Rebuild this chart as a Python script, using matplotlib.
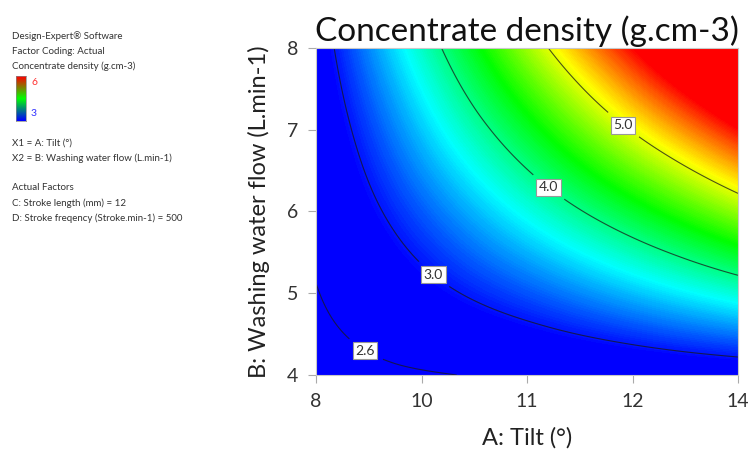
import numpy as np
import matplotlib
matplotlib.use('Agg')
import matplotlib.pyplot as plt
import matplotlib.tri as mtri
from matplotlib.colors import LinearSegmentedColormap

plt.rcParams['font.family'] = ['Lato', 'DejaVu Sans']

# factor levels (A: tilt, B: washing water flow)
tilt = [8, 9, 10, 11, 12, 13, 14]
flow = [4, 5, 6, 7, 8]

# concentrate density, one row per flow level
density = [
    [2.51, 2.56, 2.60, 2.65, 2.69, 2.74, 2.78],
    [2.59, 2.79, 2.99, 3.18, 3.38, 3.58, 3.78],
    [2.67, 3.02, 3.37, 3.72, 4.07, 4.42, 4.78],
    [2.75, 3.25, 3.76, 4.26, 4.77, 5.27, 5.77],
    [2.83, 3.49, 4.14, 4.80, 5.46, 6.11, 6.77],
]

contour_levels = [2.6, 3.0, 4.0, 5.0]
label_spots = [(8.73, 4.34), (9.72, 5.28), (11.31, 6.30), (12.38, 7.07)]

xtick_pos = [8, 9.5, 11, 12.5, 14]
xtick_labels = ['8', '10', '11', '12', '14']
ytick_pos = [4, 5, 6, 7, 8]

legend_lines_top = ['Design-Expert\u00ae Software', 'Factor Coding: Actual',
                    'Concentrate density (g.cm-3)']
legend_lines_bottom = ['X1 = A: Tilt (\u00b0)', 'X2 = B: Washing water flow (L.min-1)', '',
                       'Actual Factors', 'C: Stroke length (mm) = 12',
                       'D: Stroke freqency (Stroke.min-1) = 500']

cmap = LinearSegmentedColormap.from_list(
    'de', ['#0000ff', '#00ffff', '#00ff00', '#ffff00', '#ff0000'])

fig = plt.figure(figsize=(7.51, 4.66), dpi=100)
ax = fig.add_axes([0.4208, 0.1953, 0.5619, 0.7017])

X, Y = np.meshgrid(tilt, flow)
Z = np.array(density)
tri = mtri.Triangulation(X.ravel(), Y.ravel())
refiner = mtri.UniformTriRefiner(tri)
tri_f, z_f = refiner.refine_field(Z.ravel(), subdiv=5)

ax.tricontourf(tri_f, z_f, levels=np.linspace(2.3, 7.0, 240), cmap=cmap,
               vmin=2.95, vmax=5.8, extend='both')
cs = ax.tricontour(tri_f, z_f, levels=contour_levels, colors='#1a1a1a',
                   linewidths=0.8, alpha=0.75)
labels = ax.clabel(cs, fmt={2.6: '2.6', 3.0: '3.0', 4.0: '4.0', 5.0: '5.0'},
                   manual=label_spots, inline=True, inline_spacing=10, fontsize=10)
for t in labels:
    t.set_rotation(0)
    t.set_color('#333333')
    t.set_bbox(dict(facecolor='white', edgecolor='#999999', linewidth=0.8, pad=1.8))

ax.set_xlim(8, 14)
ax.set_ylim(4, 8)
ax.set_xticks(xtick_pos)
ax.set_xticklabels(xtick_labels)
ax.set_yticks(ytick_pos)
ax.tick_params(direction='out', length=6, width=0.8, color='#aaaaaa',
               labelsize=14, labelcolor='#333333', pad=7)
for s in ax.spines.values():
    s.set_color('#c8c8c8')
    s.set_linewidth(0.8)

ax.set_title('Concentrate density (g.cm-3)', fontsize=24, color='#111111', pad=5)
ax.set_xlabel('A: Tilt (\u00b0)', fontsize=17, color='#222222', labelpad=12)
ax.set_ylabel('B: Washing water flow (L.min-1)', fontsize=17, color='#222222', labelpad=12)

# legend text on the left
y0 = 466 - 36
for i, line in enumerate(legend_lines_top):
    fig.text(12 / 751, (y0 - i * 15) / 466, line, fontsize=7, color='#333333', va='center')

cax = fig.add_axes([16 / 751, 1 - 121 / 466, 10 / 751, 45 / 466])
cax.imshow(np.linspace(6, 3, 60).reshape(-1, 1), aspect='auto',
           cmap=LinearSegmentedColormap.from_list('leg', ['#0000ff', '#00ff00', '#ff0000']))
cax.set_xticks([])
cax.set_yticks([])
for s in cax.spines.values():
    s.set_color('#888888')
    s.set_linewidth(0.5)
fig.text(31 / 751, 1 - 83 / 466, '6', fontsize=7.5, color='#ff3030', va='center')
fig.text(31 / 751, 1 - 113 / 466, '3', fontsize=7.5, color='#3030ff', va='center')

y1 = 466 - 143
for i, line in enumerate(legend_lines_bottom):
    fig.text(12 / 751, (y1 - i * 15) / 466, line, fontsize=7, color='#333333', va='center')

fig.savefig('out.png', dpi=100)
